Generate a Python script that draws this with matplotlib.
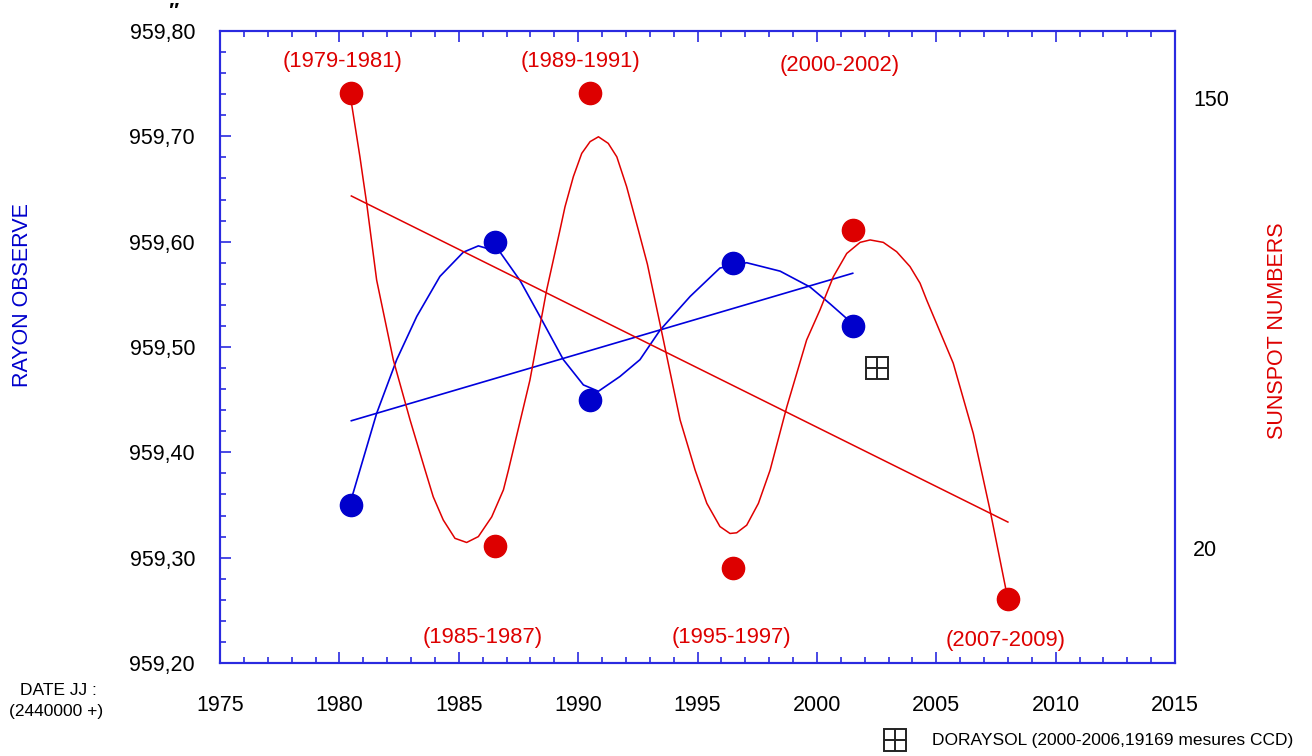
import matplotlib
matplotlib.use("Agg")
import matplotlib.pyplot as plt
from matplotlib.ticker import MultipleLocator, FuncFormatter

plt.rcParams['font.family'] = ['Liberation Sans', 'DejaVu Sans']

# mean solar radius (arcsec) per cycle period
ray_years = [1980.5, 1986.5, 1990.5, 1996.5, 2001.5]
ray_vals = [959.35, 959.60, 959.45, 959.58, 959.52]
# fitted curve
ray_curve_x = [1980.57, 1981.56, 1982.40, 1983.24, 1984.21, 1985.19, 1985.82, 1986.73,
               1987.57, 1988.40, 1989.38, 1990.22, 1990.85, 1991.75, 1992.59, 1993.43,
               1994.69, 1995.94, 1997.06, 1998.46, 1999.71, 2000.55, 2001.25, 2001.47]
ray_curve_y = [959.361, 959.437, 959.488, 959.529, 959.567, 959.590, 959.596, 959.590,
               959.563, 959.529, 959.488, 959.464, 959.458, 959.472, 959.488, 959.516,
               959.548, 959.575, 959.580, 959.572, 959.557, 959.541, 959.527, 959.521]
ray_trend_x = [1980.5, 2001.5]
ray_trend_y = [959.430, 959.570]

# sunspot numbers
ssn_years = [1980.5, 1986.5, 1990.5, 1996.5, 2001.5, 2008.0]
ssn_vals = [151.4, 20.6, 151.4, 14.2, 111.9, 5.3]
ssn_curve_x = [1980.44, 1980.86, 1981.00, 1981.14, 1981.56, 1982.26, 1982.96, 1983.59,
               1983.93, 1984.35, 1984.84, 1985.33, 1985.82, 1986.38, 1986.87, 1987.08,
               1987.98, 1988.68, 1989.24, 1989.45, 1989.80, 1990.15, 1990.50, 1990.85,
               1991.26, 1991.62, 1992.03, 1992.52, 1992.90, 1993.57, 1994.27, 1994.90,
               1995.39, 1995.94, 1996.36, 1996.64, 1997.06, 1997.55, 1998.04, 1998.74,
               1999.57, 2000.13, 2000.69, 2001.25, 2001.81, 2002.23, 2002.78, 2003.34,
               2003.90, 2004.32, 2004.60, 2005.71, 2006.55, 2007.25, 2007.95]
ssn_curve_y = [151.4, 133.0, 126.3, 119.7, 97.4, 74.3, 57.0, 42.5,
               34.8, 28.1, 22.8, 21.6, 23.3, 29.0, 36.8, 42.5,
               68.5, 94.5, 111.9, 118.6, 127.3, 134.0, 137.4, 138.8,
               136.9, 133.0, 124.4, 111.9, 102.0, 80.1, 57.0, 42.5,
               32.9, 26.2, 24.2, 24.4, 26.6, 32.9, 42.5, 60.8,
               80.1, 88.8, 98.4, 105.1, 108.3, 109.0, 108.3, 105.6,
               101.3, 96.5, 91.6, 73.4, 53.1, 31.0, 6.9]
ssn_trend_x = [1980.5, 2008.0]
ssn_trend_y = [121.7, 27.5]

dorr_year = [2002.5]
dorr_val = [959.48]

periods = ['(1979-1981)', '(1989-1991)', '(2000-2002)',
           '(1985-1987)', '(1995-1997)', '(2007-2009)']
period_x = [1980.15, 1990.08, 2000.97, 1986.02, 1996.40, 2007.92]
period_y = [959.771, 959.771, 959.767, 959.224, 959.224, 959.221]

blue = '#0000cc'
red = '#dd0000'
axcol = '#2a2ae0'

fig = plt.figure(figsize=(13.12, 7.56), dpi=100)
ax = fig.add_axes([0.1677, 0.1230, 0.7279, 0.8360])

ax.plot(ray_curve_x, ray_curve_y, color='#0000dd', lw=1.2)
ax.plot(ray_trend_x, ray_trend_y, color='#0000dd', lw=1.2)
ax.plot(ray_years, ray_vals, 'o', color=blue, ms=16, zorder=5)
ax.plot(dorr_year, dorr_val, 's', ms=16, mfc='none', mec='#222222', mew=1.4, zorder=5)
ax.plot(dorr_year, dorr_val, '+', ms=16, color='#222222', mew=1.4, zorder=5)

for t, x, y in zip(periods, period_x, period_y):
    ax.text(x, y, t, color=red, fontsize=15.8, ha='center', va='center')

ax.set_xlim(1975, 2015)
ax.set_ylim(959.20, 959.80)
ax.xaxis.set_major_locator(MultipleLocator(5))
ax.xaxis.set_minor_locator(MultipleLocator(1))
ax.yaxis.set_major_locator(MultipleLocator(0.1))
ax.yaxis.set_minor_locator(MultipleLocator(0.02))
ax.yaxis.set_major_formatter(FuncFormatter(lambda v, p: f'{v:.2f}'.replace('.', ',')))
ax.tick_params(which='both', direction='in', color=axcol, top=True, right=True,
               labelsize=15.5, width=1.2)
ax.tick_params(which='major', length=8)
ax.tick_params(which='minor', length=4)
ax.tick_params(axis='x', which='major', pad=23)
ax.tick_params(axis='y', which='major', pad=18)
for s in ax.spines.values():
    s.set_color(axcol)
    s.set_linewidth(1.5)

ax2 = ax.twinx()
ax2.plot(ssn_curve_x, ssn_curve_y, color='#e00000', lw=1.1)
ax2.plot(ssn_trend_x, ssn_trend_y, color='#e00000', lw=1.1)
ax2.plot(ssn_years, ssn_vals, 'o', color=red, ms=16, zorder=5)
ax2.set_ylim(-13.22, 169.36)
ax2.set_yticks([20, 150])
ax2.tick_params(axis='y', length=0, labelsize=15.5, pad=13)
for s in ax2.spines.values():
    s.set_color(axcol)
    s.set_linewidth(1.5)

fig.text(0.0168, 0.610, 'RAYON OBSERVE', color=blue, fontsize=15.5,
         rotation=90, ha='center', va='center')
fig.text(0.974, 0.563, 'SUNSPOT NUMBERS', color=red, fontsize=15.5,
         rotation=90, ha='center', va='center')
fig.text(0.131, 0.985, '″', fontsize=15, ha='center', va='center',
         style='italic', weight='bold')
fig.text(0.0442, 0.0873, 'DATE JJ :', fontsize=12.5, ha='center', va='center')
fig.text(0.0427, 0.0595, '(2440000 +)', fontsize=12.5, ha='center', va='center')

ax.plot([0.682], [0.021], 's', ms=16, mfc='none', mec='#222222', mew=1.4,
        transform=fig.transFigure, clip_on=False)
ax.plot([0.682], [0.021], '+', ms=16, color='#222222', mew=1.4,
        transform=fig.transFigure, clip_on=False)
fig.text(0.710, 0.021, 'DORAYSOL (2000-2006,19169 mesures CCD)', fontsize=12.5,
         ha='left', va='center')

fig.savefig('out.png', dpi=100)
